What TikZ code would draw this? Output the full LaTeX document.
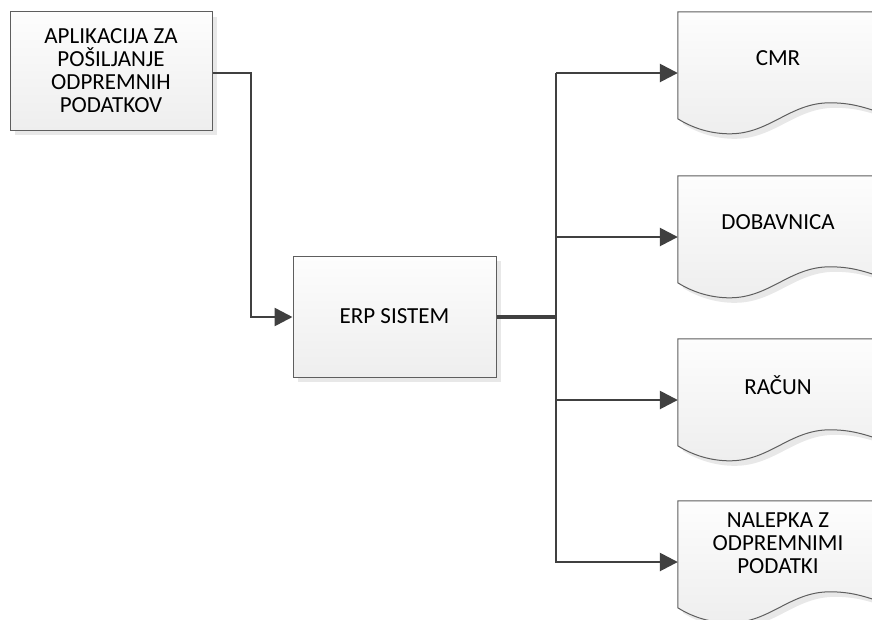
\documentclass[tikz,border=0pt]{standalone}
\usepackage{fontspec}
\setmainfont{Carlito}
\usetikzlibrary{arrows.meta}
\definecolor{linec}{HTML}{404040}
\definecolor{bordc}{HTML}{5E5E5E}
\definecolor{shadc}{HTML}{E8E8E8}
\definecolor{topc}{HTML}{FDFDFD}
\definecolor{botc}{HTML}{EEEEEE}
\tikzset{
  procbox/.style={rectangle, draw=bordc, line width=1pt, top color=topc, bottom color=botc,
    minimum width=202pt, minimum height=119pt, inner sep=0pt, align=center,
    font=\fontsize{23}{23}\selectfont},
  docbox/.style={rectangle, draw=none, minimum width=200pt, minimum height=122pt, inner sep=0pt},
  doctxt/.style={align=center, inner sep=0pt, font=\fontsize{23}{23}\selectfont},
  conn/.style={draw=linec, line width=2.6pt},
  thickconn/.style={draw=linec, line width=4pt},
  arr/.style={conn, -{Triangle[length=18pt,width=18pt]}},
}
\newcommand{\DocShape}[1]{%
  \begin{scope}[shift={(#1.north west)}]
    \fill[shadc] (5,5) -- (205,5) -- (205,105) .. controls (190,100) and (177,96) .. (157,96)
      .. controls (117,96) and (97,127) .. (57,127) .. controls (39,127) and (21,122) .. (5,112) -- cycle;
    \path[draw=bordc, line width=1pt, top color=topc, bottom color=botc]
      (0,0) -- (200,0) -- (200,100) .. controls (185,95) and (172,91) .. (152,91)
      .. controls (112,91) and (92,122) .. (52,122) .. controls (34,122) and (16,117) .. (0,107) -- cycle;
  \end{scope}}
\begin{document}
\begin{tikzpicture}[x=1pt,y=-1pt]
\useasboundingbox (0,0) rectangle (872,619);
\clip (0,0) rectangle (872,619);
\fill[white] (0,0) rectangle (872,619);
% shadows of process boxes
\fill[shadc] (15,17) rectangle (217,135);
\fill[shadc] (298,261) rectangle (501,382);
\node[procbox] (app) at (111,71) {APLIKACIJA ZA\\POŠILJANJE\\ODPREMNIH\\PODATKOV};
\node[procbox, minimum width=203pt, minimum height=121pt] (erp) at (394.5,316.5) {ERP SISTEM};
% documents
\node[docbox] (cmr) at (778,73) {};
\node[docbox] (dob) at (778,237) {};
\node[docbox] (rac) at (778,400) {};
\node[docbox] (nal) at (778,562) {};
\DocShape{cmr}
\DocShape{dob}
\DocShape{rac}
\DocShape{nal}
\node[doctxt] (cmrt) at (778,58) {CMR};
\node[doctxt] (dobt) at (778,222) {DOBAVNICA};
\node[doctxt] (ract) at (778,385) {RAČUN};
\node[doctxt] (nalt) at (778,543) {NALEPKA Z\\ODPREMNIMI\\PODATKI};
% connectors
\coordinate (bx) at (556,317);
\draw[arr] (app.east |- 0,73) -| (251,317) -- (erp.west |- 0,317);
\draw[thickconn] (erp.east |- 0,317) -- (bx);
\draw[conn] (556,73) -- (556,563);
\draw[arr] (bx |- cmr.west) -- (cmr.west);
\draw[arr] (bx |- dob.west) -- (dob.west);
\draw[arr] (bx |- rac.west) -- (rac.west);
\draw[arr] (bx |- nal.west) -- (nal.west);
\end{tikzpicture}
\end{document}
